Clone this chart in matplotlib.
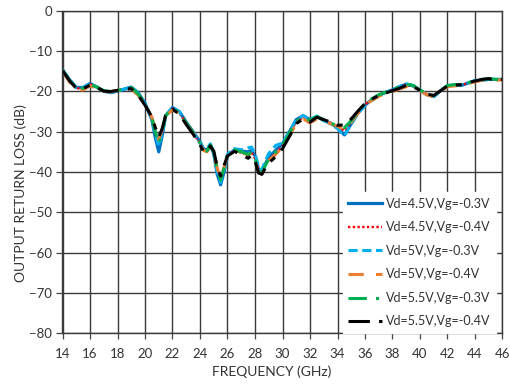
import matplotlib
matplotlib.use("Agg")
import matplotlib.pyplot as plt

plt.rcParams['font.family'] = ['Lato', 'DejaVu Sans']

# frequency points (GHz)
freq = [14, 14.5, 15, 15.5, 16, 16.5, 17, 17.5, 18, 18.5, 19, 19.5, 20, 20.5,
        20.75, 21, 21.25, 21.5, 22, 22.5, 23, 23.5, 24, 24.25, 24.5, 24.75, 25,
        25.25, 25.5, 25.75, 26, 26.5, 27, 27.5, 27.75, 28, 28.25, 28.5, 28.75, 29,
        29.5, 30, 30.5, 31, 31.5, 32, 32.5, 33, 33.5, 34, 34.5, 35, 35.5, 36,
        36.5, 37, 37.5, 38, 38.5, 39, 39.5, 40, 40.5, 41, 41.5, 42, 42.5, 43,
        43.5, 44, 44.5, 45, 45.5, 46]

# output return loss (dB) per bias condition
rl_45_03 = [-14.6, -17.0, -19.0, -19.0, -18.0, -18.9, -19.9, -20.3, -19.9, -19.4,
            -18.9, -20.3, -22.9, -27.0, -31.5, -35.0, -31.0, -26.0, -24.0, -25.0,
            -27.6, -30.0, -32.5, -34.2, -34.6, -33.2, -35.5, -40.5, -43.2, -40.0,
            -36.0, -34.5, -34.8, -35.0, -34.6, -36.0, -39.2, -40.0, -38.0, -36.4,
            -34.6, -33.0, -30.0, -27.0, -26.0, -27.0, -26.2, -27.2, -27.9, -29.0,
            -30.8, -28.0, -25.3, -23.4, -22.0, -21.0, -20.2, -19.6, -18.8, -18.2,
            -18.6, -19.7, -20.8, -21.2, -19.8, -18.6, -18.4, -18.5, -17.9, -17.3,
            -17.2, -17.0, -17.0, -17.0]
rl_45_04 = [-14.7, -17.2, -19.2, -19.3, -18.2, -19.0, -19.9, -20.1, -19.8, -19.5,
            -19.1, -20.6, -23.2, -26.6, -30.0, -32.6, -29.8, -26.2, -24.3, -25.3,
            -28.0, -30.3, -32.9, -34.6, -34.8, -33.4, -35.0, -39.5, -41.8, -39.0,
            -35.8, -34.7, -35.2, -35.8, -35.2, -36.6, -39.6, -40.2, -38.4, -37.0,
            -35.4, -33.6, -30.6, -27.5, -26.4, -27.3, -26.3, -27.1, -27.8, -28.7,
            -29.8, -27.5, -25.0, -23.2, -22.0, -21.0, -20.3, -19.7, -19.0, -18.4,
            -18.7, -19.7, -20.7, -21.1, -19.8, -18.6, -18.4, -18.4, -17.9, -17.4,
            -17.1, -16.9, -17.0, -17.0]
rl_50_03 = [-14.6, -17.0, -19.0, -19.1, -18.1, -18.9, -19.9, -20.2, -19.9, -19.4,
            -18.9, -20.4, -23.0, -26.8, -30.5, -33.6, -30.4, -26.0, -24.0, -25.0,
            -27.8, -30.0, -32.6, -34.2, -34.4, -33.0, -35.2, -40.0, -42.6, -39.6,
            -35.6, -34.2, -34.5, -34.0, -33.8, -35.5, -38.5, -39.5, -37.2, -35.4,
            -33.4, -32.8, -30.0, -27.0, -26.0, -27.0, -26.1, -27.2, -28.0, -29.2,
            -31.0, -28.0, -25.4, -23.5, -22.1, -21.0, -20.2, -19.6, -18.8, -18.1,
            -18.5, -19.6, -20.8, -21.3, -19.9, -18.6, -18.3, -18.4, -17.9, -17.3,
            -17.1, -16.9, -17.0, -17.0]
rl_50_04 = [-14.9, -17.6, -19.6, -19.6, -18.6, -19.2, -20.0, -20.1, -19.7, -19.6,
            -19.4, -20.9, -23.3, -26.4, -29.4, -32.0, -29.4, -26.0, -24.6, -25.4,
            -27.8, -30.2, -33.0, -34.6, -35.0, -33.8, -35.2, -39.0, -41.5, -38.8,
            -35.9, -34.8, -35.0, -35.8, -35.2, -36.8, -40.0, -40.4, -38.6, -37.2,
            -35.6, -33.8, -31.0, -28.0, -26.8, -27.8, -26.8, -27.3, -28.0, -28.6,
            -29.6, -27.6, -25.3, -23.4, -22.2, -21.2, -20.6, -20.0, -19.4, -18.8,
            -18.9, -19.8, -20.8, -21.3, -20.0, -18.8, -18.6, -18.5, -18.0, -17.6,
            -17.2, -17.0, -17.2, -17.1]
rl_55_03 = [-14.7, -17.2, -19.1, -19.2, -18.2, -18.9, -19.8, -20.0, -19.7, -19.4,
            -19.0, -20.6, -23.1, -26.6, -30.0, -33.0, -29.8, -26.0, -24.2, -25.2,
            -27.9, -30.2, -32.8, -34.5, -34.8, -33.3, -35.0, -39.6, -42.0, -39.0,
            -35.6, -34.5, -35.0, -35.6, -35.0, -36.5, -39.6, -40.3, -38.4, -36.8,
            -35.0, -33.4, -30.4, -27.4, -26.3, -27.2, -26.2, -27.0, -27.8, -28.6,
            -29.0, -27.2, -24.9, -23.0, -21.8, -20.8, -20.2, -19.6, -18.8, -18.2,
            -18.5, -19.6, -20.6, -21.0, -19.7, -18.5, -18.3, -18.3, -17.8, -17.4,
            -17.0, -16.8, -17.0, -17.0]
rl_55_04 = [-14.8, -17.3, -19.2, -19.3, -18.4, -19.0, -19.9, -20.0, -19.7, -19.5,
            -19.3, -20.9, -23.4, -26.3, -29.0, -31.3, -29.2, -26.0, -24.4, -25.6,
            -28.2, -30.6, -33.2, -34.9, -35.0, -33.5, -34.8, -38.6, -41.0, -38.4,
            -36.0, -34.9, -35.6, -36.6, -35.9, -37.2, -40.2, -40.6, -39.0, -37.8,
            -36.2, -34.2, -31.2, -28.0, -26.8, -27.6, -26.4, -27.0, -27.6, -28.4,
            -28.3, -26.8, -24.8, -23.0, -21.9, -21.0, -20.4, -19.8, -19.2, -18.5,
            -18.8, -19.7, -20.6, -21.0, -19.8, -18.6, -18.4, -18.3, -17.8, -17.4,
            -17.0, -16.8, -17.1, -17.0]

labels = ['Vd=4.5V,Vg=-0.3V', 'Vd=4.5V,Vg=-0.4V', 'Vd=5V,Vg=-0.3V',
          'Vd=5V,Vg=-0.4V', 'Vd=5.5V,Vg=-0.3V', 'Vd=5.5V,Vg=-0.4V']
series = [rl_45_03, rl_45_04, rl_50_03, rl_50_04, rl_55_03, rl_55_04]
colors = ['#0070C0', '#FF0000', '#00B0F0', '#ED7D31', '#00B050', '#000000']
styles = ['-', (0, (1, 1)), (0, (3, 1.5)), (0, (5, 4)), (0, (6, 3, 1, 3)), (0, (7, 3, 2, 3))]
widths = [2.3, 1.7, 2.2, 2.2, 2.2, 2.2]

fig = plt.figure(figsize=(5.1, 3.88), dpi=100)
ax = fig.add_axes([62.5 / 510, 1 - 333 / 388, 440 / 510, 322 / 388])

for vals, lab, c, ls, lw in zip(series, labels, colors, styles, widths):
    ax.plot(freq, vals, color=c, linestyle=ls, linewidth=lw, label=lab)

ax.set_xlim(14, 46)
ax.set_ylim(-80, 0)
ax.set_xticks(range(14, 47, 2))
ax.set_yticks(range(-80, 1, 10))
ax.grid(True, color='#3a3a3a', linewidth=1.0)
ax.set_axisbelow(True)
for s in ax.spines.values():
    s.set_color('#3a3a3a')
    s.set_linewidth(1.0)
ax.tick_params(axis='both', labelsize=9.5, colors='#444444', length=4,
               width=0.9, labelcolor='#333333')
ax.tick_params(axis='x', pad=7)

fig.text(272 / 510, 1 - 372 / 388, 'FREQUENCY (GHz)', ha='center', va='center',
         fontsize=10, color='#333333')
fig.text(21 / 510, 1 - 193 / 388, 'OUTPUT RETURN LOSS (dB)', ha='center',
         va='center', rotation=90, fontsize=10, color='#333333')

leg = ax.legend(loc='lower right', bbox_to_anchor=(0.985, 0.0), fontsize=9,
                frameon=True, fancybox=False, edgecolor='white', framealpha=1,
                handlelength=2.7, handletextpad=0.3, labelspacing=0.92,
                borderpad=0.45, borderaxespad=0.0)
for t in leg.get_texts():
    t.set_color('#333333')

fig.savefig('out.png', dpi=100)
